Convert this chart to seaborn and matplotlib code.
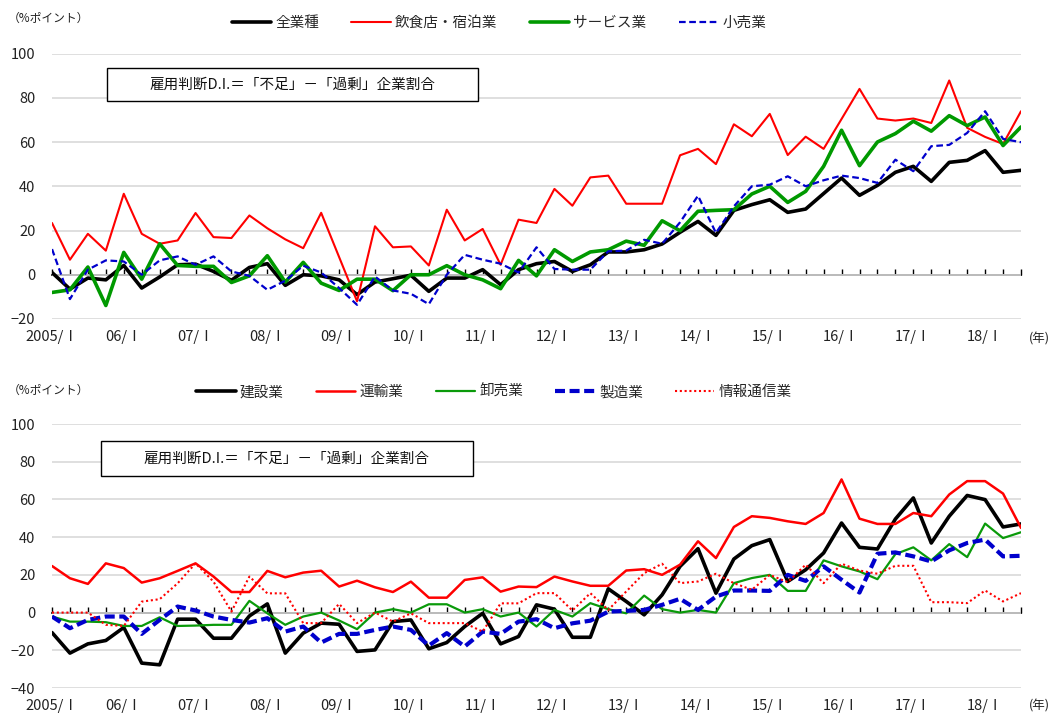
import numpy as np
import pandas as pd
import matplotlib
matplotlib.use("Agg")
import matplotlib.pyplot as plt
import seaborn as sns
from matplotlib.lines import Line2D
from matplotlib.patches import Rectangle

# quarters 2005/I .. 2018/III
quarters = list(range(55))
tick_pos = list(range(0, 53, 4))
tick_labels = ["2005/Ⅰ"] + [f"{y:02d}/Ⅰ" for y in range(6, 19)]

# upper panel
all_industries = [1, -6.5, -1.5, -2.3, 4.2, -6, -1, 4.5, 4.8, 1.5, -2.5, 3.3, 5, -4.8, 0, -0.5, -2.3, -9,
                  -3.3, -1.8, -0.2, -7.5, -1.5, -1.5, 2.3, -4.5, 2.3, 5, 6, 1.5, 4.5, 10.3, 10.3, 11.3,
                  13.9, 19.2, 24.1, 17.8, 29.1, 31.7, 33.9, 28.2, 29.7, 36.7, 43.7, 35.9, 40.4, 46.3, 49,
                  42.2, 50.8, 51.7, 56.1, 46.3, 47.2]
food_hotel = [23.4, 6.8, 18.5, 10.9, 36.6, 18.5, 14, 15.5, 27.9, 17, 16.6, 26.8, 21, 16, 12, 28, 8, -12,
              21.9, 12.4, 12.8, 4.2, 29.4, 15.5, 20.7, 4.5, 24.9, 23.4, 38.8, 31.2, 44, 44.8, 32.1, 32.1,
              32.1, 54, 56.9, 50, 68, 62.6, 72.7, 54.1, 62.4, 56.9, 70.4, 84, 70.6, 69.7, 70.6, 68.6,
              87.8, 66.4, 62.3, 59.1, 73.9]
services = [-8, -6.8, 3.5, -13.9, 10.1, -2, 14, 4.2, 3.8, 3.8, -3.5, -0.5, 8.6, -3.3, 5.6, -3.8, -7.1, -2,
            -2, -7.2, 0, 0, 4.1, 0, -2.3, -6.3, 6.5, -0.5, 11.3, 6, 10.3, 11.3, 15.2, 13.3, 24.4, 19.9,
            28.7, 29.1, 29.4, 36.5, 40, 32.7, 37.7, 49, 65.3, 49.3, 60, 63.8, 69.4, 64.9, 71.9, 67.4,
            71.3, 58.4, 66.8]
retail = [11.6, -11, 2.3, 6.5, 6, 0, 6.5, 8.3, 4.5, 8.3, 1.5, -0.5, -6.8, -2.7, 4.1, 1, -6, -13.6, -0.8,
          -7.1, -8.6, -13.3, 0, 9, 6.8, 5, 1, 12.4, 2.6, 2.3, 2.3, 10.6, 10.9, 15.8, 14, 23.7, 35.7, 18.9,
          30.9, 40, 40.7, 44.5, 40, 42.7, 44.8, 43.7, 41.5, 52, 46.8, 58.1, 58.7, 64.1, 73.9, 61.4, 59.9]

# lower panel
construction = [-10.6, -21.5, -16.6, -14.8, -7.9, -26.8, -27.7, -3.5, -3.5, -13.6, -13.6, -1.8, 4.6, -21.5,
                -10.9, -5.6, -6.2, -20.6, -19.8, -4.8, -3.9, -19.2, -15.9, -7.4, -0.4, -16.6, -12.7, 4.1,
                1.8, -13.1, -13.1, 12.6, 5.9, -1.2, 9.4, 24.5, 33.9, 10.3, 28.4, 35.5, 38.7, 16.5, 22.7,
                31.6, 47.5, 34.6, 33.7, 49.6, 60.8, 36.9, 51.1, 62.1, 59.9, 45.4, 47]
transport = [24.7, 18.2, 15.2, 26.1, 23.6, 15.9, 18.2, 22.1, 26.1, 19.1, 10.9, 10.9, 22.1, 18.7, 21.2, 22.2,
             13.8, 16.9, 13.4, 10.9, 16.4, 7.9, 7.9, 17.3, 18.7, 11.1, 13.8, 13.5, 19.1, 16.5, 14.2, 14.2,
             22.3, 23, 20, 25.4, 37.8, 28.9, 45.4, 51.1, 50.2, 48.4, 47, 52.8, 70.6, 49.8, 47, 47, 52.8,
             51.1, 62.6, 69.7, 69.7, 63.1, 44.9]
wholesale = [-2.1, -4.8, -4.8, -5.1, -7.1, -7.1, -2.5, -7.1, -6.9, -6.5, -6.5, 6.2, -0.4, -6.5, -2.1, 0, -4.2,
             -8.8, 0, 1.8, 0, 4.4, 4.4, 0, 1.8, -2.1, 0, -7.4, 1.4, -2.1, 5, 1.8, -0.4, 9, 1.8, 0, 1.4, 0,
             15.6, 18.3, 20, 11.5, 11.5, 27.7, 24.5, 21.8, 17.7, 31, 34.6, 27.7, 36.3, 29.4, 47.2, 39.5,
             42.6]
manufacturing = [-2.1, -8.3, -3.9, -2.1, -2.1, -11.3, -3.9, 3.2, 1.1, -2.1, -3.9, -5.3, -3, -10.1, -7.4, -15.9,
                 -11.3, -11.3, -9.2, -7.4, -9.2, -17.5, -10.9, -18, -10.1, -11.3, -4.8, -3.5, -8.3, -5.7,
                 -4.3, 0.5, 0.9, 1.4, 4.1, 7.3, 1.4, 8.5, 11.7, 11.7, 11.5, 20, 16.8, 24.5, 17.4, 10.6,
                 31.2, 31.9, 29.8, 27.1, 33, 36.9, 38.7, 29.8, 30.1]
info_comm = [0, 0, 0, -6.5, -7.1, 5.8, 7.1, 15.5, 26.1, 16.4, 0.5, 19.1, 10.2, 10.2, -5.6, -5.6, 4.6, -5.6, 0,
             -4.8, -0.4, -5.6, -5.6, -5.6, -10.1, 4.9, 4.9, 10.3, 10.3, 1.1, 10.3, 1.4, 11.2, 20.9, 25.9,
             15.6, 16.5, 20.6, 15.6, 12.1, 20, 16.1, 25.4, 15.6, 25.9, 22.3, 20.6, 24.8, 24.8, 5.5, 5.5, 5,
             11.7, 5.9, 10.3]

RED = "#ff0000"
GREEN_TOP = "#009900"
GREEN_BOT = "#0a9a0a"
BLUE = "#0000cc"

top_series = [
    ("全業種", all_industries, dict(color="black", linewidth=2.6, linestyle="-")),
    ("飲食店・宿泊業", food_hotel, dict(color=RED, linewidth=1.5, linestyle="-")),
    ("サービス業", services, dict(color=GREEN_TOP, linewidth=2.6, linestyle="-")),
    ("小売業", retail, dict(color=BLUE, linewidth=1.6, linestyle=(0, (3, 1.6)))),
]
bottom_series = [
    ("建設業", construction, dict(color="black", linewidth=2.6, linestyle="-")),
    ("運輸業", transport, dict(color=RED, linewidth=1.8, linestyle="-")),
    ("卸売業", wholesale, dict(color=GREEN_BOT, linewidth=1.6, linestyle="-")),
    ("製造業", manufacturing, dict(color=BLUE, linewidth=3.0, linestyle=(0, (2.4, 1.1)))),
    ("情報通信業", info_comm, dict(color=RED, linewidth=1.5, linestyle=(0, (1, 1.3)))),
]

sns.set_theme(style="white")
plt.rcParams["font.family"] = ["Noto Sans CJK JP", "DejaVu Sans"]
plt.rcParams["axes.unicode_minus"] = False

W, H = 1057, 715
fig = plt.figure(figsize=(W / 100, H / 100), dpi=100)


def fx(px):
    return px / W


def fy(py):
    return 1 - py / H


def draw_panel(rect, series, ymin, legend_y, legend_x, box, label_y):
    ax = fig.add_axes(rect)
    for name, values, style in series:
        df = pd.DataFrame({"q": quarters, "v": values})
        sns.lineplot(data=df, x="q", y="v", ax=ax, legend=False, **style)
    ax.set_xlim(0, 54)
    ax.set_ylim(ymin, 100)
    ax.set_yticks(range(ymin, 101, 20))
    ax.set_yticklabels([str(v).replace("-", "−") for v in range(ymin, 101, 20)])
    ax.set_xticks(tick_pos)
    ax.set_xticklabels(tick_labels)
    ax.set_xlabel("")
    ax.set_ylabel("")
    ax.yaxis.grid(True, color="#d9d9d9", linewidth=1.2)
    ax.set_axisbelow(True)
    for s in ax.spines.values():
        s.set_visible(False)
    ax.tick_params(axis="both", length=0, labelsize=10.5, colors="#222222")
    ax.tick_params(axis="y", pad=12)
    ax.tick_params(axis="x", pad=8)

    # zero axis line with quarterly tick marks
    sec = ax.secondary_xaxis(-ymin / (100 - ymin))
    sec.set_xticks(quarters)
    sec.tick_params(axis="x", direction="in", length=4, width=1, color="black",
                    labelbottom=False, labeltop=False)
    sec.spines["bottom"].set_color("black")
    sec.spines["bottom"].set_linewidth(1.2)

    handles = [Line2D([], [], **style) for _, _, style in series]
    labels = [name for name, _, _ in series]
    fig.legend(handles, labels, loc="center", bbox_to_anchor=(legend_x, legend_y),
               ncol=len(series), frameon=False, fontsize=10.5, handlelength=2.7,
               handletextpad=0.3, columnspacing=2.2)

    x0, y0, x1, y1 = box
    fig.add_artist(Rectangle((fx(x0), fy(y1)), fx(x1 - x0), fy(y0) - fy(y1),
                             transform=fig.transFigure, facecolor="white",
                             edgecolor="black", linewidth=1))
    fig.text(fx((x0 + x1) / 2), fy((y0 + y1) / 2), "雇用判断D.I.＝「不足」－「過剰」企業割合",
             ha="center", va="center", fontsize=10.5, color="#111111")

    fig.text(fx(8), fy(label_y), "（%ポイント）", ha="left", va="center", fontsize=8.5,
             color="#222222")
    return ax


top_rect = [fx(52), fy(319), fx(1021 - 52), fy(53.5) - fy(319)]
bot_rect = [fx(52), fy(688), fx(1021 - 52), fy(424) - fy(688)]

draw_panel(top_rect, top_series, -20, fy(23), fx(499), (107, 68, 478, 101), 18)
draw_panel(bot_rect, bottom_series, -40, fy(392), fx(494), (101, 441, 473, 476), 390)

fig.text(fx(1029), fy(339), "(年)", ha="left", va="center", fontsize=9, color="#222222")
fig.text(fx(1029), fy(706), "(年)", ha="left", va="center", fontsize=9, color="#222222")

fig.savefig("out.png", dpi=100)
